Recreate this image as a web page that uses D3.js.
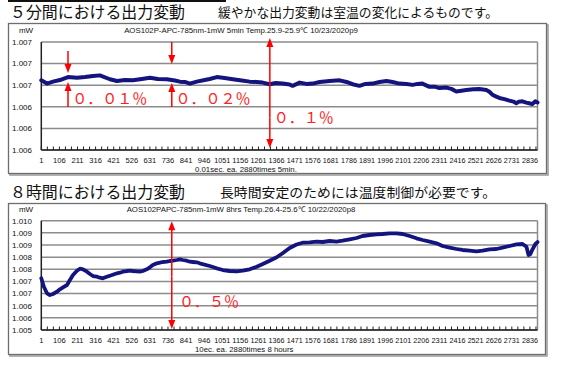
<!DOCTYPE html>
<html><head><meta charset="utf-8">
<script src="https://cdn.jsdelivr.net/npm/d3@7"></script>
<style>body{margin:0;background:#fff}svg{display:block}</style>
</head><body><svg id="c" width="565" height="369"></svg>
<script>
// ---------- data ----------
const xTickLabels = [1,106,211,316,421,526,631,736,841,946,1051,1156,1261,1366,1471,1576,1681,1786,1891,1996,2101,2206,2311,2416,2521,2626,2731,2836];

const topYTicks = [1.0070,1.0068,1.0066,1.0064,1.0062,1.0060];
const topYLabels = ["1.007","1.007","1.007","1.006","1.006","1.006"];
const botYTicks = [1.0095,1.0090,1.0085,1.0080,1.0075,1.0070,1.0065,1.0060,1.0055,1.0050];
const botYLabels = ["1.010","1.009","1.009","1.008","1.008","1.007","1.007","1.006","1.006","1.005"];

const topIdx = [1,34,69,109,156,208,254,301,341,399,440,486,532,584,631,677,729,776,805,834,863,903,949,978,1019,1065,1112,1164,1210,1251,1285,1326,1361,1401,1442,1459,1500,1540,1575,1616,1674,1732,1772,1807,1847,1882,1923,1963,2004,2039,2079,2120,2155,2184,2212,2253,2288,2311,2352,2380,2409,2438,2467,2508,2543,2583,2601,2618,2641,2659,2688,2717,2740,2757,2774,2792,2815,2832,2850,2867,2880];
const topVal = [1.006645,1.006615,1.006633,1.006648,1.006675,1.006669,1.006675,1.006685,1.006691,1.006655,1.006639,1.006648,1.006645,1.006657,1.006669,1.006657,1.006655,1.006644,1.006633,1.006630,1.006615,1.006633,1.006648,1.006657,1.006675,1.006666,1.006655,1.006644,1.006633,1.006630,1.006624,1.006609,1.006621,1.006615,1.006607,1.006594,1.006624,1.006612,1.006615,1.006630,1.006639,1.006645,1.006630,1.006609,1.006594,1.006612,1.006615,1.006630,1.006639,1.006630,1.006615,1.006612,1.006603,1.006612,1.006615,1.006585,1.006585,1.006573,1.006578,1.006566,1.006542,1.006548,1.006555,1.006562,1.006564,1.006555,1.006539,1.006512,1.006494,1.006482,1.006471,1.006457,1.006448,1.006433,1.006448,1.006451,1.006439,1.006433,1.006425,1.006451,1.006440];

const botIdx = [1,16,34,51,69,92,109,127,150,167,185,208,225,243,266,283,301,324,341,358,381,399,416,440,457,474,498,515,532,555,573,590,613,631,648,671,689,706,729,747,764,787,805,822,845,863,880,903,920,978,1019,1054,1094,1135,1170,1210,1251,1286,1326,1367,1401,1442,1482,1517,1558,1598,1633,1674,1714,1749,1790,1830,1865,1906,1946,1981,2022,2062,2097,2138,2178,2213,2254,2294,2329,2370,2410,2445,2486,2526,2561,2602,2642,2677,2718,2758,2793,2816,2828,2839,2851,2868,2880];
const botVal = [1.007129,1.006783,1.006511,1.006441,1.006482,1.006577,1.006676,1.006758,1.006853,1.007059,1.007264,1.007441,1.007524,1.007499,1.007400,1.007306,1.007223,1.007194,1.007153,1.007129,1.007194,1.007236,1.007277,1.007334,1.007359,1.007400,1.007429,1.007441,1.007429,1.007417,1.007400,1.007429,1.007499,1.007581,1.007676,1.007746,1.007771,1.007800,1.007812,1.007841,1.007853,1.007882,1.007911,1.007882,1.007853,1.007812,1.007800,1.007787,1.007746,1.007635,1.007540,1.007470,1.007429,1.007417,1.007441,1.007499,1.007606,1.007717,1.007853,1.007993,1.008158,1.008376,1.008520,1.008594,1.008611,1.008635,1.008623,1.008664,1.008635,1.008676,1.008734,1.008788,1.008870,1.008911,1.008940,1.008952,1.008981,1.008981,1.008952,1.008870,1.008775,1.008705,1.008635,1.008569,1.008458,1.008388,1.008335,1.008294,1.008265,1.008240,1.008265,1.008322,1.008335,1.008388,1.008458,1.008528,1.008541,1.008429,1.008088,1.008129,1.008322,1.008541,1.008620];

const topTitle = "AOS102P-APC-785nm-1mW 5min Temp.25.9-25.9\u2103  10/23/2020p9";
const botTitle = "AOS102PAPC-785nm-1mW 8hrs Temp.26.4-25.6\u2103  10/22/2020p8";
const topNote = "0.01sec. ea. 2880times 5min.";
const botNote = "10ec. ea. 2880times 8 hours";
const topHead = "５分間における出力変動";
const topSub = "緩やかな出力変動は室温の変化によるものです。";
const botHead = "８時間における出力変動";
const botSub = "長時間安定のためには温度制御が必要です。";

// annotations in data units: [index, valueFrom, valueTo]
const topArrows = [[156,1.006917,1.006713],[156,1.006398,1.006630],[758,1.007000,1.006796],[758,1.006398,1.006620],[1327,1.006300,1.007037],[1327,1.006300,1.006019]];
const topPct = [["０．０１％",180,1.006481],["０．０２％",780,1.006481],["０．１％",1350,1.006300]];
const botArrows = [[758,1.0072,1.009473],[758,1.0072,1.005041]];
const botPct = [["０．５％",800,1.006190]];

// ---------- drawing ----------
const svg = d3.select("#c");
const font = "'Liberation Sans', Arial, sans-serif";
const jp = "'Noto Sans CJK JP', sans-serif";

svg.append("rect").attr("width",565).attr("height",369).attr("fill","#fff");
svg.append("line").attr("x1",8).attr("x2",226).attr("y1",1).attr("y2",1).attr("stroke","#111").attr("stroke-width",2);

function heading(h, s, y, subX, subW, hW) {
  svg.append("text").attr("x",10).attr("y",y).attr("font-family",jp).attr("font-size",16)
    .attr("textLength",hW).attr("lengthAdjust","spacingAndGlyphs").attr("fill","#111").text(h);
  svg.append("text").attr("x",subX).attr("y",y-1).attr("font-family",jp).attr("font-size",13)
    .attr("textLength",subW).attr("lengthAdjust","spacingAndGlyphs").attr("fill","#111").text(s);
}
heading(topHead, topSub, 18, 218, 280, 175);
heading(botHead, botSub, 198, 220, 276, 175);

function chart(o) {
  const g = svg.append("g");
  // shadowed frame
  g.append("rect").attr("x",o.bx+1.5).attr("y",o.by+1.5).attr("width",o.bw).attr("height",o.bh)
    .attr("fill","none").attr("stroke","#9a9a9a").attr("stroke-width",1.5);
  g.append("rect").attr("x",o.bx).attr("y",o.by).attr("width",o.bw).attr("height",o.bh)
    .attr("fill","#fff").attr("stroke","#6e6e6e").attr("stroke-width",1.3);
  const x = d3.scaleLinear().domain([1,2880]).range([41.3,537.5]);
  const y = d3.scaleLinear().domain(o.dom).range([o.y0,o.y1]);
  // gridlines
  g.selectAll(".gl").data(o.ticks).join("line")
    .attr("x1",41.3).attr("x2",537.5).attr("y1",d=>y(d)).attr("y2",d=>y(d))
    .attr("stroke","#8c8c8c").attr("stroke-width",1.5);
  g.append("line").attr("x1",537.5).attr("x2",537.5).attr("y1",o.y1).attr("y2",o.y0).attr("stroke","#8c8c8c").attr("stroke-width",1.5);
  // y labels
  g.selectAll(".yl").data(o.ticks).join("text")
    .attr("x",32).attr("y",d=>y(d)+2.8).attr("text-anchor","end")
    .attr("font-family",font).attr("font-size",8).attr("fill","#111")
    .text((d,i)=>o.labels[i]);
  g.append("text").attr("x",26).attr("y",o.y1-9).attr("text-anchor","middle")
    .attr("font-family",font).attr("font-size",8).attr("fill","#111").text("mW");
  g.append("text").attr("x",241).attr("y",o.y1-9).attr("text-anchor","middle")
    .attr("font-family",font).attr("font-size",7.8).attr("fill","#111").text(o.title);
  // axes
  g.append("line").attr("x1",41.3).attr("x2",41.3).attr("y1",o.y1).attr("y2",o.y0).attr("stroke","#222").attr("stroke-width",1.5);
  g.append("line").attr("x1",41.3).attr("x2",537.5).attr("y1",o.y0).attr("y2",o.y0).attr("stroke","#222").attr("stroke-width",1.5);
  const minor = d3.range(1,2881,35);
  g.selectAll(".tk").data(minor).join("line")
    .attr("x1",d=>x(d)).attr("x2",d=>x(d)).attr("y1",o.y0).attr("y2",o.y0-3.5)
    .attr("stroke","#222").attr("stroke-width",1);
  g.selectAll(".xl").data(xTickLabels).join("text")
    .attr("x",d=>x(d)).attr("y",o.y0+13).attr("text-anchor","middle")
    .attr("font-family",font).attr("font-size",7.6).attr("fill","#111")
    .attr("textLength",16).attr("lengthAdjust","spacingAndGlyphs")
    .each(function(d){ if(String(d).length<4) d3.select(this).attr("textLength",null); })
    .text(d=>d);
  g.append("text").attr("x",195).attr("y",o.y0+21.5)
    .attr("font-family",font).attr("font-size",7.8).attr("fill","#111").text(o.note);
  // series
  const pts = o.idx.map((d,i)=>[d,o.val[i]]);
  g.append("path").datum(pts)
    .attr("d",d3.line().x(d=>x(d[0])).y(d=>y(d[1])))
    .attr("fill","none").attr("stroke","#14147f").attr("stroke-width",o.sw)
    .attr("stroke-linejoin","round").attr("stroke-linecap","round");
  // annotations
  o.arrows.forEach(a=>{
    const ax = x(a[0]), y1 = y(a[1]), y2 = y(a[2]);
    const dir = Math.sign(y2-y1);
    g.append("line").attr("x1",ax).attr("x2",ax).attr("y1",y1).attr("y2",y2-dir*6)
      .attr("stroke","#ff0000").attr("stroke-width",1.5);
    g.append("path").attr("d",`M${ax},${y2}L${ax-3.5},${y2-dir*9}L${ax+3.5},${y2-dir*9}Z`).attr("fill","#ff0000");
  });
  o.pct.forEach(p=>{
    g.append("text").attr("x",x(p[1])).attr("y",y(p[2])+5.5)
      .attr("font-family",jp).attr("font-size",15).attr("fill","#ff2020").text(p[0]);
  });
}

chart({bx:8.5,by:23.5,bw:538,bh:150,dom:[1.006,1.007],y0:150,y1:42,ticks:topYTicks,labels:topYLabels,
  title:topTitle,note:topNote,idx:topIdx,val:topVal,arrows:topArrows,pct:topPct,sw:4});
chart({bx:8.5,by:203.5,bw:537,bh:151,dom:[1.005,1.0095],y0:330,y1:220.7,ticks:botYTicks,labels:botYLabels,
  title:botTitle,note:botNote,idx:botIdx,val:botVal,arrows:botArrows,pct:botPct,sw:3.8});
</script></body></html>
